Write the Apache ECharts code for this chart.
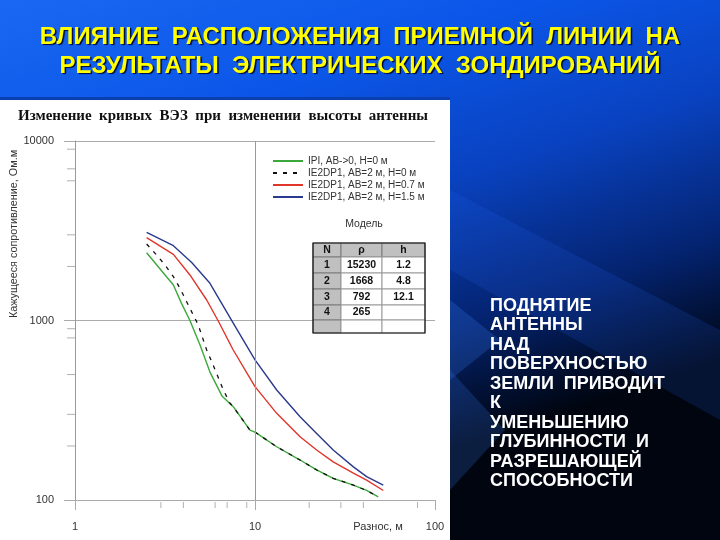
<!DOCTYPE html>
<html>
<head>
<meta charset="utf-8">
<script src="https://cdn.jsdelivr.net/npm/echarts@6/dist/echarts.min.js"></script>
<style>html,body{margin:0;padding:0;background:#000;}#c{width:720px;height:540px;}</style>
</head>
<body>
<div id="c"></div>
<script>
// ---- data ----
const seriesNames = ['IPI, AB->0, H=0 м', 'IE2DP1, AB=2 м, H=0 м', 'IE2DP1, AB=2 м, H=0.7 м', 'IE2DP1, AB=2 м, H=1.5 м'];
const xGreen = [2.5, 3.52, 3.9, 4.35, 4.95, 5.62, 6.55, 7.57, 9.38, 10, 13.2, 17.8, 22, 27.2, 35.2, 41.7, 48.4];
const yGreen = [2386, 1577, 1250, 1000, 730, 516, 380, 331, 245, 239, 198, 167, 147, 132, 121, 113, 104];
const xDash = [2.5, 2.84, 3.16, 3.52, 3.83, 4.17, 4.54, 4.84, 5.39, 5.75, 6.67, 7.26, 7.57, 9.38, 10, 13.2, 17.8, 22, 27.2, 35.2, 41.7, 48.4];
const yDash = [2668, 2317, 2038, 1754, 1512, 1273, 1073, 944, 685, 589, 410, 346, 331, 245, 239, 198, 167, 147, 132, 121, 113, 104];
const xRed = [2.5, 3.52, 4.35, 5.39, 6.25, 7.57, 10, 13.2, 17.8, 22, 27.2, 35.2, 41.7, 51.6];
const yRed = [2893, 2337, 1793, 1301, 994, 685, 428, 304, 225, 190, 163, 141, 129, 113];
const xBlue = [2.5, 3.52, 4.45, 5.62, 7.57, 10, 13.2, 17.8, 22, 27.2, 35.2, 41.7, 51.6];
const yBlue = [3100, 2610, 2105, 1612, 968, 603, 410, 291, 235, 190, 153, 135, 121];
const xMinorTicks = [3, 4, 6, 7, 9, 20, 30, 40, 80];
const yMinorTicks = [9000, 7000, 6000, 3000, 2000, 900, 800, 500, 300, 200];
const tableHead = ['N', 'ρ', 'h'];
const layerN = ['1', '2', '3', '4', ''];
const layerRho = ['15230', '1668', '792', '265', ''];
const layerH = ['1.2', '4.8', '12.1', '', ''];
const slideTitle = ['ВЛИЯНИЕ  РАСПОЛОЖЕНИЯ  ПРИЕМНОЙ  ЛИНИИ  НА', 'РЕЗУЛЬТАТЫ  ЭЛЕКТРИЧЕСКИХ  ЗОНДИРОВАНИЙ'];
const chartTitle = 'Изменение  кривых  ВЭЗ  при  изменении  высоты  антенны';
const sideText = ['ПОДНЯТИЕ', 'АНТЕННЫ', 'НАД', 'ПОВЕРХНОСТЬЮ', 'ЗЕМЛИ  ПРИВОДИТ', 'К', 'УМЕНЬШЕНИЮ', 'ГЛУБИННОСТИ  И', 'РАЗРЕШАЮЩЕЙ', 'СПОСОБНОСТИ'];
const yAxisName = 'Кажущееся сопротивление, Ом.м';
const xAxisName = 'Разнос, м';
const modelLabel = 'Модель';

const zip = (xs, ys) => xs.map((x, i) => [x, ys[i]]);
const sans = 'Liberation Sans, Arial, sans-serif';

// ---- graphics ----
const g = [];
g.push({type: 'rect', z: -20, shape: {x: 0, y: 0, width: 720, height: 540},
  style: {fill: {type: 'linear', x: 0, y: 0, x2: 0.25, y2: 1, colorStops: [
    {offset: 0, color: '#1a68f2'}, {offset: 0.3, color: '#0b56e8'}, {offset: 0.55, color: '#0942c0'},
    {offset: 0.8, color: '#04236f'}, {offset: 1, color: '#000510'}]}}});
g.push({type: 'polygon', z: -19, shape: {points: [[450, 190], [720, 330], [720, 420], [450, 270]]},
  style: {fill: 'rgba(40,110,255,0.15)'}});
g.push({type: 'polygon', z: -19, shape: {points: [[450, 300], [500, 340], [450, 380]]},
  style: {fill: 'rgba(60,130,255,0.22)'}});
g.push({type: 'polygon', z: -19, shape: {points: [[450, 370], [505, 430], [450, 490]]},
  style: {fill: 'rgba(60,130,255,0.2)'}});
g.push({type: 'rect', z: -15, shape: {x: 0, y: 100, width: 450, height: 440}, style: {fill: '#ffffff'}});
g.push({type: 'rect', z: -14, shape: {x: 0, y: 97, width: 450, height: 3}, style: {fill: '#0b3fb0'}});
slideTitle.forEach((t, i) => g.push({type: 'text', z: 10, x: 360, y: 37 + i * 29,
  style: {text: t, fill: '#ffff00', font: 'bold 24px ' + sans, textAlign: 'center', textVerticalAlign: 'middle',
    textShadowColor: 'rgba(0,0,40,0.9)', textShadowOffsetX: 1.5, textShadowOffsetY: 1.5, textShadowBlur: 1}}));
sideText.forEach((t, i) => g.push({type: 'text', z: 10, x: 490, y: 306 + i * 19.5,
  style: {text: t, fill: '#ffffff', font: 'bold 18px ' + sans, textAlign: 'left', textVerticalAlign: 'middle'}}));
g.push({type: 'text', z: 10, x: 223, y: 116,
  style: {text: chartTitle, fill: '#111', font: 'bold 15px Liberation Serif, Times New Roman, serif', textAlign: 'center', textVerticalAlign: 'middle'}});
g.push({type: 'text', z: 10, x: 14, y: 234, rotation: Math.PI / 2,
  style: {text: yAxisName, fill: '#333', font: '10.8px ' + sans, textAlign: 'center', textVerticalAlign: 'middle'}});
g.push({type: 'text', z: 10, x: 378, y: 527,
  style: {text: xAxisName, fill: '#333', font: '11px ' + sans, textAlign: 'center', textVerticalAlign: 'middle'}});
g.push({type: 'text', z: 10, x: 364, y: 224,
  style: {text: modelLabel, fill: '#333', font: '10.5px ' + sans, textAlign: 'center', textVerticalAlign: 'middle'}});
// table
const colX = [313, 341, 382, 425];
const rowY = [243, 257, 273, 289, 305, 320, 333];
const cols = [layerN, layerRho, layerH];
for (let r = 0; r < rowY.length - 1; r++) {
  for (let c = 0; c < 3; c++) {
    const gray = r === 0 || c === 0;
    const txt = r === 0 ? tableHead[c] : cols[c][r - 1];
    g.push({type: 'rect', z: 5, shape: {x: colX[c], y: rowY[r], width: colX[c + 1] - colX[c], height: rowY[r + 1] - rowY[r]},
      style: {fill: gray ? '#c0c0c0' : '#ffffff', stroke: gray ? '#7a7a7a' : '#9a9a9a', lineWidth: 1}});
    if (txt) g.push({type: 'text', z: 6, x: (colX[c] + colX[c + 1]) / 2, y: (rowY[r] + rowY[r + 1]) / 2,
      style: {text: txt, fill: '#111', font: 'bold 10.5px ' + sans, textAlign: 'center', textVerticalAlign: 'middle'}});
  }
}
g.push({type: 'rect', z: 7, shape: {x: colX[0], y: rowY[0], width: colX[3] - colX[0], height: rowY[rowY.length - 1] - rowY[0]},
  style: {fill: 'none', stroke: '#111', lineWidth: 1.2}});

// ---- chart ----
const chart = echarts.init(document.getElementById('c'));
const lineBase = {type: 'line', symbol: 'none', smooth: false, z: 3};
chart.setOption({
  animation: false,
  graphic: g,
  grid: {left: 75, right: 285, top: 141, bottom: 40},
  legend: {
    data: seriesNames, orient: 'vertical', left: 272, top: 155, padding: 0,
    itemWidth: 30, itemHeight: 12, itemGap: 0,
    itemStyle: {opacity: 0},
    textStyle: {fontSize: 10, lineHeight: 12, color: '#333', fontFamily: sans}, selectedMode: false
  },
  xAxis: {
    type: 'log', logBase: 10, min: 1, max: 100,
    axisLine: {show: true, lineStyle: {color: '#aaa'}},
    axisTick: {show: true, length: 10, lineStyle: {color: '#aaa'}},
    axisLabel: {fontSize: 11, color: '#333', margin: 21, fontFamily: sans, formatter: v => String(v)},
    splitLine: {show: false}
  },
  yAxis: {
    type: 'log', logBase: 10, min: 100, max: 10000,
    axisLine: {show: true, lineStyle: {color: '#999'}},
    axisTick: {show: true, length: 11, lineStyle: {color: '#aaa'}},
    axisLabel: {fontSize: 11, color: '#333', margin: 21, fontFamily: sans, formatter: v => String(v)},
    splitLine: {show: true, lineStyle: {color: '#aaa', width: 1}}
  },
  series: [
    Object.assign({}, lineBase, {name: seriesNames[0], data: zip(xGreen, yGreen), lineStyle: {color: '#3aa83a', width: 1.4}, itemStyle: {color: '#3aa83a'},
      markLine: {silent: true, symbol: 'none', label: {show: false}, lineStyle: {color: '#999', type: 'solid', width: 1}, data: [{xAxis: 10}]}}),
    Object.assign({}, lineBase, {name: seriesNames[1], data: zip(xDash, yDash), lineStyle: {color: '#111', width: 1.3, type: [4, 6]}, itemStyle: {color: '#111'}}),
    Object.assign({}, lineBase, {name: seriesNames[2], data: zip(xRed, yRed), lineStyle: {color: '#e0352b', width: 1.4}, itemStyle: {color: '#e0352b'}}),
    Object.assign({}, lineBase, {name: seriesNames[3], data: zip(xBlue, yBlue), lineStyle: {color: '#2b3a8c', width: 1.4}, itemStyle: {color: '#2b3a8c'}}),
    {
      type: 'custom', name: 'minorTicks', silent: true, clip: false, z: 1,
      data: xMinorTicks.map(v => [v, 100, 0]).concat(yMinorTicks.map(v => [1, v, 1])),
      encode: {x: 0, y: 1},
      renderItem: function (params, api) {
        const p = api.coord([api.value(0), api.value(1)]);
        const isX = api.value(2) === 0;
        return {type: 'line', shape: isX ? {x1: p[0], y1: p[1] + 2, x2: p[0], y2: p[1] + 8} : {x1: p[0] - 8, y1: p[1], x2: p[0], y2: p[1]},
          style: {stroke: '#b0b0b0', lineWidth: 1}};
      }
    }
  ]
});
</script>
</body>
</html>
